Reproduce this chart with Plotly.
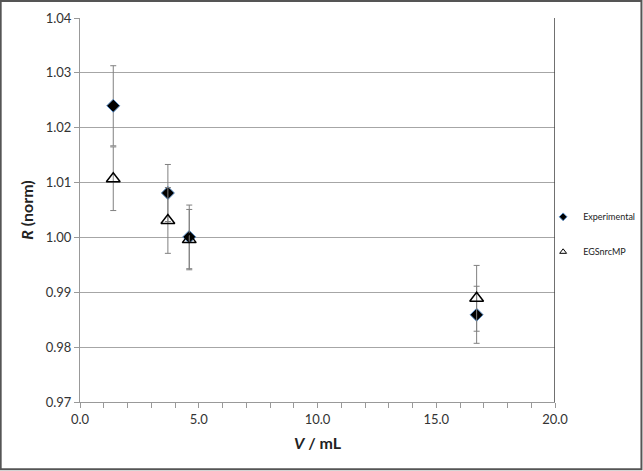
import plotly.graph_objects as go

volume = [1.4, 3.7, 4.6, 16.7]
exp_vals = [1.0240, 1.0081, 1.0001, 0.9859]
exp_err = [0.0073, 0.0052, 0.0058, 0.0052]
sim_vals = [1.0107, 1.0031, 0.9996, 0.9889]
sim_err = [0.0058, 0.0060, 0.0055, 0.0060]
x_ticks = [0, 5, 10, 15, 20]
y_ticks = [0.97, 0.98, 0.99, 1.00, 1.01, 1.02, 1.03, 1.04]

font_family = "Lato, 'Open Sans', sans-serif"

fig = go.Figure()
fig.add_trace(go.Scatter(
    x=volume, y=exp_vals, mode="markers", name="Experimental", showlegend=False,
    marker=dict(symbol="diamond", size=10, color="black", line=dict(color="#5b8fc7", width=1)),
    error_y=dict(type="data", array=exp_err, color="#808080", thickness=1, width=3),
))
fig.add_trace(go.Scatter(
    x=volume, y=sim_vals, mode="markers", name="EGSnrcMP", showlegend=False,
    marker=dict(symbol="triangle-up-open", size=12, color="black", line=dict(color="black", width=1.5)),
    error_y=dict(type="data", array=sim_err, color="#808080", thickness=1, width=3),
))
# legend entries with small symbols
fig.add_trace(go.Scatter(
    x=[None], y=[None], mode="markers", name="Experimental", legendgroup="a",
    marker=dict(symbol="diamond", size=6, color="black", line=dict(color="#5b8fc7", width=1)),
))
fig.add_trace(go.Scatter(
    x=[None], y=[None], mode="markers", name="EGSnrcMP", legendgroup="b",
    marker=dict(symbol="triangle-up-open", size=6, color="black", line=dict(color="black", width=1)),
))

# outer frame and right plot border
fig.add_shape(type="rect", xref="paper", yref="paper", x0=-0.167, x1=1.182, y0=-0.175, y1=1.044,
              line=dict(color="#555555", width=2), layer="below")
fig.add_shape(type="line", xref="x", yref="paper", x0=20, x1=20, y0=0, y1=1,
              line=dict(color="#404040", width=1.5))

fig.update_layout(
    width=643, height=471,
    margin=dict(l=80, r=88, t=18, b=69, autoexpand=False),
    paper_bgcolor="white", plot_bgcolor="white",
    font=dict(family=font_family, size=13, color="#333333"),
    showlegend=True,
    legend=dict(x=0.975, y=0.52, xanchor="left", yanchor="top", font=dict(size=9, color="#222222"),
                tracegroupgap=16, itemwidth=30, bgcolor="rgba(0,0,0,0)"),
    xaxis=dict(
        range=[0, 20], tickvals=x_ticks, ticktext=[f"{v:.1f}" for v in x_ticks],
        showgrid=False, zeroline=False, showline=True, linecolor="#999999", linewidth=1,
        ticks="outside", ticklen=5, tickcolor="#999999",
        minor=dict(dtick=1, ticks="outside", ticklen=5, tickcolor="#999999"),
        title=dict(text="<b><i>V</i> / mL</b>", font=dict(size=16, color="#222222"), standoff=12),
        tickfont=dict(size=13, color="#333333"),
    ),
    yaxis=dict(
        range=[0.97, 1.04], tickvals=y_ticks, ticktext=[f"{v:.2f}" for v in y_ticks],
        showgrid=True, gridcolor="#a6a6a6", gridwidth=1, zeroline=False,
        showline=True, linecolor="#999999", linewidth=1,
        ticks="outside", ticklen=5, tickcolor="#999999",
        title=dict(text="<b><i>R</i> (norm)</b>", font=dict(size=16, color="#222222"), standoff=8),
        tickfont=dict(size=13, color="#333333"),
    ),
)

fig.write_html("out.html", config={"displayModeBar": False},
               post_script="document.body.style.margin='0';")
